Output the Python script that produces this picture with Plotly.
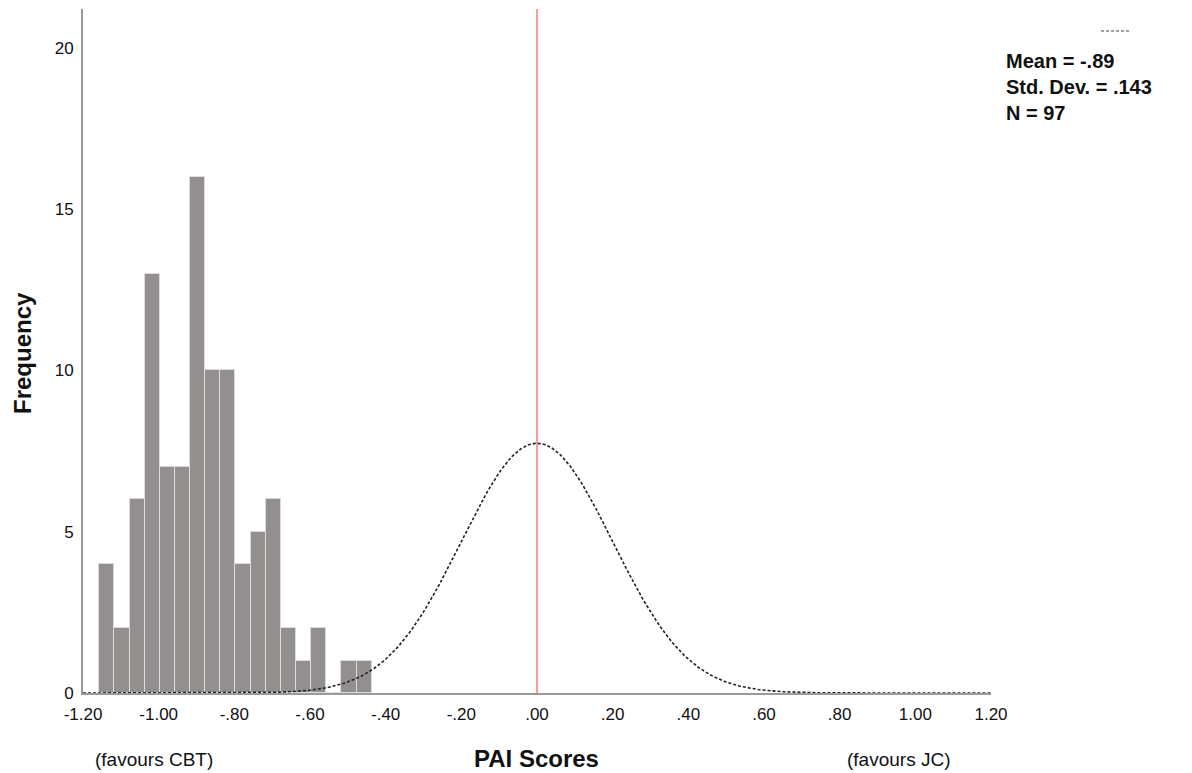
import numpy as np
import plotly.graph_objects as go

# ---- data ----
bin_centers = [-1.137, -1.097, -1.057, -1.017, -0.977, -0.937, -0.897, -0.857, -0.817,
               -0.777, -0.737, -0.697, -0.657, -0.617, -0.577, -0.537, -0.497, -0.457]
frequencies = [4, 2, 6, 13, 7, 7, 16, 10, 10, 4, 5, 6, 2, 1, 2, 0, 1, 1]
bin_width = 0.04
n_obs = 97
curve_mean = 0.0
curve_sd = 0.2
reference_x = 0.0

x_tick_vals = [-1.2, -1.0, -0.8, -0.6, -0.4, -0.2, 0.0, 0.2, 0.4, 0.6, 0.8, 1.0, 1.2]
x_tick_text = ["-1.20", "-1.00", "-.80", "-.60", "-.40", "-.20", ".00", ".20", ".40", ".60", ".80", "1.00", "1.20"]
y_tick_vals = [0, 5, 10, 15, 20]
stats_lines = ["Mean = -.89", "Std. Dev. = .143", "N = 97"]

FONT = "Liberation Sans, Arial, sans-serif"
TXT = "#111111"

# theoretical normal curve (scaled to histogram counts)
cx = np.linspace(-1.2, 1.2, 481)
cy = n_obs * bin_width / (curve_sd * np.sqrt(2 * np.pi)) * np.exp(-0.5 * ((cx - curve_mean) / curve_sd) ** 2)

fig = go.Figure()
fig.add_trace(go.Bar(
    x=bin_centers, y=frequencies, width=bin_width,
    marker=dict(color="#928f8e", line=dict(color="#dcdcdc", width=1)),
    showlegend=False, hoverinfo="x+y",
))
fig.add_trace(go.Scatter(
    x=[reference_x, reference_x], y=[0, 21.2], mode="lines",
    line=dict(color="#f4a0a0", width=2.2), showlegend=False, hoverinfo="skip",
))
fig.add_trace(go.Scatter(
    x=cx, y=cy, mode="lines",
    line=dict(color="#222222", width=1.6, dash="3px,2px"),
    showlegend=False, hoverinfo="skip",
))

fig.update_layout(
    width=1192, height=773,
    margin=dict(l=83, r=201, t=9, b=80),
    paper_bgcolor="white", plot_bgcolor="white",
    font=dict(family=FONT, size=17, color=TXT),
    bargap=0,
    xaxis=dict(
        range=[-1.2, 1.2], tickvals=x_tick_vals, ticktext=x_tick_text,
        showgrid=False, zeroline=False, showline=True, linecolor="#9a9a9a", linewidth=2,
        ticks="", tickfont=dict(size=17, family=FONT, color=TXT), ticklabelstandoff=5,
    ),
    yaxis=dict(
        range=[0, 21.2], tickvals=y_tick_vals,
        showgrid=False, zeroline=False, showline=True, linecolor="#9a9a9a", linewidth=2,
        ticks="", tickfont=dict(size=17, family=FONT, color=TXT), ticklabelstandoff=4,
    ),
)

def px_x(p):
    return (p - 83) / (1192 - 83 - 201)

def px_y(p):
    return (773 - 80 - p) / (773 - 9 - 80)

def note(x, y, text, size, **kw):
    fig.add_annotation(x=px_x(x), y=px_y(y), xref="paper", yref="paper",
                       text=text, showarrow=False, yanchor="middle",
                       font=dict(size=size, family=FONT, color=TXT), **kw)

note(22, 353, "<b>Frequency</b>", 24, textangle=-90, xanchor="center")
note(536, 758, "<b>PAI Scores</b>", 24, xanchor="center")
note(154, 759, "(favours CBT)", 19, xanchor="center")
note(898, 759, "(favours JC)", 19, xanchor="center")

# stats legend (one multi-line text block)
note(1004, 87, "<br>".join(f"<b>{s}</b>" for s in stats_lines), 20,
     xanchor="left", align="left")

fig.add_shape(type="line", xref="paper", yref="paper",
              x0=px_x(1101), x1=px_x(1130), y0=px_y(31), y1=px_y(31),
              line=dict(color="#444444", width=1.2, dash="3px,2px"))

fig.write_html("out.html")
